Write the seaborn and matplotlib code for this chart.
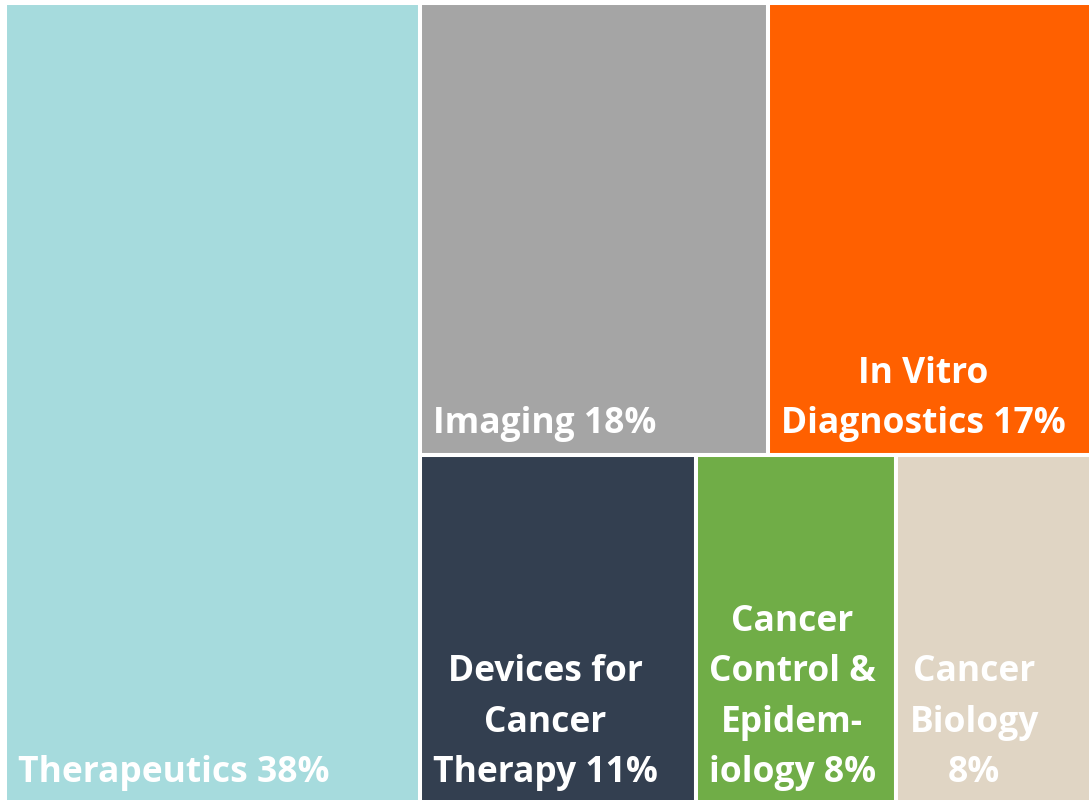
import matplotlib
matplotlib.use("Agg")
import matplotlib.pyplot as plt
from matplotlib.patches import Rectangle
import seaborn as sns

# ---- data ----
labels = ["Therapeutics 38%", "Imaging 18%", "In Vitro\nDiagnostics 17%",
          "Devices for\nCancer\nTherapy 11%", "Cancer\nControl &\nEpidem-\niology 8%",
          "Cancer\nBiology\n8%"]
values = [38, 18, 17, 11, 8, 8]
colors = ["#A6DBDD", "#A5A5A5", "#FF6000", "#333F50", "#70AD47", "#E0D5C4"]

sns.set_theme(style="white")
plt.rcParams['font.family'] = ['Open Sans', 'DejaVu Sans']


def worst(row, w):
    s = sum(row)
    return max(max(w * w * r / (s * s), (s * s) / (w * w * r)) for r in row)


def squarify(vals, x, y, dx, dy):
    total = sum(vals)
    areas = [v * dx * dy / total for v in vals]
    rects = []
    while areas:
        short = min(dx, dy)
        row = [areas[0]]
        i = 1
        while i < len(areas) and worst(row + [areas[i]], short) <= worst(row, short):
            row.append(areas[i])
            i += 1
        s = sum(row)
        if dx >= dy:
            w = s / dy
            yy = y
            for a in row:
                h = a / w
                rects.append((x, yy, w, h))
                yy += h
            x += w
            dx -= w
        else:
            h = s / dx
            xx = x
            for a in row:
                w = a / h
                rects.append((xx, y, w, h))
                xx += w
            y += h
            dy -= h
        areas = areas[i:]
    return rects


fig = plt.figure(figsize=(10.89, 8.0), dpi=100)
ax = fig.add_axes([0, 0, 1, 1])
ax.set_xlim(0, 1089)
ax.set_ylim(800, 0)
ax.axis("off")

rects = squarify(values, 5, 3, 1092, 801)
for (x, y, w, h), lab, col in zip(rects, labels, colors):
    ax.add_patch(Rectangle((x, y), w, h, facecolor=col, edgecolor="white", linewidth=2.9))
    ax.text(x + 13, y + h - 13, lab, ha="left", va="bottom", multialignment="center",
            color="white", fontsize=25.5, fontweight="bold", linespacing=1.53)

fig.savefig("out.png", dpi=100)
